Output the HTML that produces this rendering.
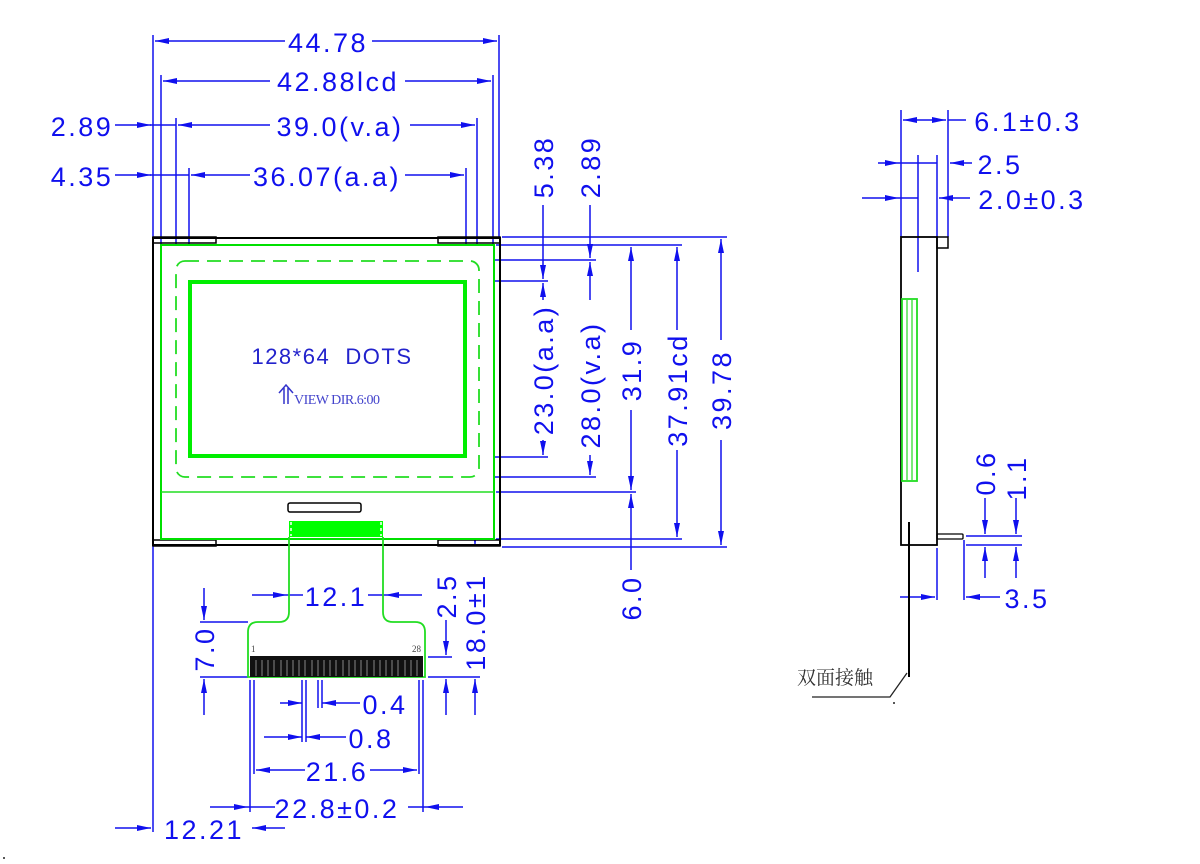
<!DOCTYPE html>
<html><head><meta charset="utf-8"><style>
html,body{margin:0;padding:0;background:#fff;}
svg{display:block;}
text{font-family:"Liberation Sans",sans-serif;fill:#1010ee;}
.d{font-size:27px;letter-spacing:2.5px;}
</style></head><body>
<svg width="1200" height="864" viewBox="0 0 1200 864" xmlns="http://www.w3.org/2000/svg">
<defs>
<marker id="a" markerWidth="14" markerHeight="8" refX="14" refY="4" orient="auto" markerUnits="userSpaceOnUse"><path d="M0,1 L14,4 L0,7 Z" fill="#1010ee"/></marker>
</defs>
<g stroke="#1010ee" stroke-width="1.5" fill="none">
<line x1="153" y1="35" x2="153" y2="832"/>
<line x1="499" y1="35" x2="499" y2="237"/>
<line x1="161" y1="75" x2="161" y2="245"/>
<line x1="493" y1="75" x2="493" y2="245"/>
<line x1="176" y1="118" x2="176" y2="280"/>
<line x1="477" y1="118" x2="477" y2="280"/>
<line x1="189" y1="168" x2="189" y2="290"/>
<line x1="466" y1="168" x2="466" y2="290"/>
<line x1="285" y1="41" x2="155" y2="41" marker-end="url(#a)"/>
<line x1="372" y1="41" x2="497" y2="41" marker-end="url(#a)"/>
<line x1="270" y1="81" x2="163" y2="81" marker-end="url(#a)"/>
<line x1="405" y1="81" x2="491" y2="81" marker-end="url(#a)"/>
<line x1="115" y1="125" x2="151" y2="125" marker-end="url(#a)"/>
<line x1="150" y1="125" x2="176" y2="125"/>
<line x1="270" y1="125" x2="178" y2="125" marker-end="url(#a)"/>
<line x1="410" y1="125" x2="475" y2="125" marker-end="url(#a)"/>
<line x1="115" y1="175" x2="151" y2="175" marker-end="url(#a)"/>
<line x1="150" y1="175" x2="189" y2="175"/>
<line x1="250" y1="175" x2="191" y2="175" marker-end="url(#a)"/>
<line x1="405" y1="175" x2="464" y2="175" marker-end="url(#a)"/>
<line x1="502" y1="237" x2="727" y2="237"/>
<line x1="496" y1="245" x2="682" y2="245"/>
<line x1="480" y1="260" x2="596" y2="260"/>
<line x1="468" y1="281" x2="548" y2="281"/>
<line x1="468" y1="457" x2="548" y2="457"/>
<line x1="480" y1="477" x2="596" y2="477"/>
<line x1="496" y1="492" x2="636" y2="492"/>
<line x1="496" y1="539" x2="682" y2="539"/>
<line x1="502" y1="547" x2="727" y2="547"/>
<line x1="543" y1="205" x2="543" y2="279" marker-end="url(#a)"/>
<line x1="543" y1="300" x2="543" y2="283" marker-end="url(#a)"/>
<line x1="543" y1="440" x2="543" y2="455" marker-end="url(#a)"/>
<line x1="590" y1="205" x2="590" y2="258" marker-end="url(#a)"/>
<line x1="590" y1="300" x2="590" y2="262" marker-end="url(#a)"/>
<line x1="590" y1="455" x2="590" y2="475" marker-end="url(#a)"/>
<line x1="631" y1="330" x2="631" y2="247" marker-end="url(#a)"/>
<line x1="631" y1="410" x2="631" y2="490" marker-end="url(#a)"/>
<line x1="631" y1="570" x2="631" y2="494" marker-end="url(#a)"/>
<line x1="677" y1="330" x2="677" y2="247" marker-end="url(#a)"/>
<line x1="677" y1="450" x2="677" y2="537" marker-end="url(#a)"/>
<line x1="721" y1="340" x2="721" y2="239" marker-end="url(#a)"/>
<line x1="721" y1="440" x2="721" y2="545" marker-end="url(#a)"/>
<line x1="252" y1="595" x2="287" y2="595" marker-end="url(#a)"/>
<line x1="287" y1="595" x2="303" y2="595"/>
<line x1="422" y1="595" x2="385" y2="595" marker-end="url(#a)"/>
<line x1="385" y1="595" x2="368" y2="595"/>
<line x1="200" y1="622" x2="248" y2="622"/>
<line x1="200" y1="677" x2="248" y2="677"/>
<line x1="204" y1="588" x2="204" y2="620" marker-end="url(#a)"/>
<line x1="204" y1="715" x2="204" y2="679" marker-end="url(#a)"/>
<line x1="428" y1="657" x2="452" y2="657"/>
<line x1="428" y1="677" x2="480" y2="677"/>
<line x1="446" y1="620" x2="446" y2="655" marker-end="url(#a)"/>
<line x1="446" y1="715" x2="446" y2="679" marker-end="url(#a)"/>
<line x1="475" y1="500" x2="475" y2="545" marker-end="url(#a)"/>
<line x1="475" y1="715" x2="475" y2="679" marker-end="url(#a)"/>
<line x1="250" y1="680" x2="250" y2="812"/>
<line x1="423" y1="680" x2="423" y2="812"/>
<line x1="254" y1="680" x2="254" y2="774"/>
<line x1="419" y1="680" x2="419" y2="774"/>
<line x1="302" y1="680" x2="302" y2="742"/>
<line x1="306" y1="680" x2="306" y2="742"/>
<line x1="318" y1="680" x2="318" y2="708"/>
<line x1="322" y1="680" x2="322" y2="708"/>
<line x1="280" y1="703" x2="302" y2="703" marker-end="url(#a)"/>
<line x1="360" y1="703" x2="322" y2="703" marker-end="url(#a)"/>
<line x1="264" y1="737" x2="302" y2="737" marker-end="url(#a)"/>
<line x1="346" y1="737" x2="306" y2="737" marker-end="url(#a)"/>
<line x1="305" y1="770" x2="256" y2="770" marker-end="url(#a)"/>
<line x1="370" y1="770" x2="417" y2="770" marker-end="url(#a)"/>
<line x1="210" y1="807" x2="248" y2="807" marker-end="url(#a)"/>
<line x1="248" y1="807" x2="275" y2="807"/>
<line x1="463" y1="807" x2="425" y2="807" marker-end="url(#a)"/>
<line x1="425" y1="807" x2="408" y2="807"/>
<line x1="115" y1="828" x2="151" y2="828" marker-end="url(#a)"/>
<line x1="285" y1="828" x2="252" y2="828" marker-end="url(#a)"/>
<line x1="901" y1="110" x2="901" y2="237"/>
<line x1="948" y1="110" x2="948" y2="237"/>
<line x1="918" y1="155" x2="918" y2="272"/>
<line x1="937" y1="155" x2="937" y2="237"/>
<line x1="924" y1="120" x2="903" y2="120" marker-end="url(#a)"/>
<line x1="924" y1="120" x2="946" y2="120" marker-end="url(#a)"/>
<line x1="948" y1="120" x2="966" y2="120"/>
<line x1="878" y1="163" x2="899" y2="163" marker-end="url(#a)"/>
<line x1="899" y1="163" x2="937" y2="163"/>
<line x1="972" y1="163" x2="950" y2="163" marker-end="url(#a)"/>
<line x1="862" y1="198" x2="899" y2="198" marker-end="url(#a)"/>
<line x1="899" y1="198" x2="918" y2="198"/>
<line x1="970" y1="198" x2="939" y2="198" marker-end="url(#a)"/>
<line x1="966" y1="536" x2="1022" y2="536"/>
<line x1="966" y1="545" x2="1022" y2="545"/>
<line x1="985" y1="498" x2="985" y2="534" marker-end="url(#a)"/>
<line x1="985" y1="578" x2="985" y2="547" marker-end="url(#a)"/>
<line x1="1016" y1="498" x2="1016" y2="534" marker-end="url(#a)"/>
<line x1="1016" y1="578" x2="1016" y2="547" marker-end="url(#a)"/>
<line x1="937" y1="548" x2="937" y2="600"/>
<line x1="964" y1="540" x2="964" y2="600"/>
<line x1="900" y1="597" x2="935" y2="597" marker-end="url(#a)"/>
<line x1="1000" y1="597" x2="966" y2="597" marker-end="url(#a)"/>
</g>
<rect x="153" y="238" width="347" height="307" fill="none" stroke="#000" stroke-width="2"/>
<rect x="153" y="237" width="63" height="6" fill="none" stroke="#000" stroke-width="1.5"/>
<rect x="438" y="237" width="62" height="6" fill="none" stroke="#000" stroke-width="1.5"/>
<rect x="153" y="540" width="63" height="6" fill="none" stroke="#000" stroke-width="1.5"/>
<rect x="438" y="540" width="62" height="6" fill="none" stroke="#000" stroke-width="1.5"/>
<rect x="161" y="245" width="333" height="294" fill="#fff" stroke="#00e000" stroke-width="2"/>
<rect x="176" y="261" width="303" height="216" rx="9" fill="none" stroke="#22dd22" stroke-width="1.8" stroke-dasharray="14,8"/>
<rect x="190" y="282" width="275" height="174" fill="none" stroke="#00ee00" stroke-width="4"/>
<line x1="161" y1="492" x2="494" y2="492" stroke="#22dd22" stroke-width="1.5"/>
<rect x="288" y="503" width="73" height="9" rx="2" fill="none" stroke="#000" stroke-width="1.5"/>
<rect x="289" y="521" width="94" height="16" fill="#00ff00"/>
<line x1="291" y1="522" x2="291" y2="536" stroke="#fff" stroke-width="1.5" stroke-dasharray="3,3"/>
<line x1="381" y1="522" x2="381" y2="536" stroke="#fff" stroke-width="1.5" stroke-dasharray="3,3"/>
<path d="M289,537 L289,612 Q289,622 279,622 L258,622 Q248,622 248,632 L248,677 L425,677 L425,632 Q425,622 415,622 L393,622 Q383,622 383,612 L383,537" fill="none" stroke="#22dd22" stroke-width="1.8"/>
<rect x="250" y="656" width="173" height="21" fill="#111"/>
<g stroke="#888" stroke-width="1">
<line x1="256" y1="660" x2="256" y2="676"/><line x1="262" y1="660" x2="262" y2="676"/><line x1="268" y1="660" x2="268" y2="676"/><line x1="274" y1="660" x2="274" y2="676"/><line x1="281" y1="660" x2="281" y2="676"/><line x1="287" y1="660" x2="287" y2="676"/><line x1="293" y1="660" x2="293" y2="676"/><line x1="299" y1="660" x2="299" y2="676"/><line x1="305" y1="660" x2="305" y2="676"/><line x1="312" y1="660" x2="312" y2="676"/><line x1="318" y1="660" x2="318" y2="676"/><line x1="324" y1="660" x2="324" y2="676"/><line x1="330" y1="660" x2="330" y2="676"/><line x1="336" y1="660" x2="336" y2="676"/><line x1="343" y1="660" x2="343" y2="676"/><line x1="349" y1="660" x2="349" y2="676"/><line x1="355" y1="660" x2="355" y2="676"/><line x1="361" y1="660" x2="361" y2="676"/><line x1="367" y1="660" x2="367" y2="676"/><line x1="374" y1="660" x2="374" y2="676"/><line x1="380" y1="660" x2="380" y2="676"/><line x1="386" y1="660" x2="386" y2="676"/><line x1="392" y1="660" x2="392" y2="676"/><line x1="398" y1="660" x2="398" y2="676"/><line x1="405" y1="660" x2="405" y2="676"/><line x1="411" y1="660" x2="411" y2="676"/><line x1="417" y1="660" x2="417" y2="676"/>
</g>
<text x="251" y="652" style="font-size:9px;fill:#444;font-family:'Liberation Serif',serif">1</text>
<text x="412" y="652" style="font-size:9px;fill:#444;font-family:'Liberation Serif',serif">28</text>
<text x="332" y="364" text-anchor="middle" style="font-size:22px;letter-spacing:1.5px;fill:#2222cc">128*64&#160;&#160;DOTS</text>
<path d="M284,404 L284,388 M288,404 L288,388 M279,393 L286,385 L293,393" stroke="#3333cc" stroke-width="1.5" fill="none"/>
<text x="294" y="404" style="font-size:14px;fill:#4444cc;font-family:'Liberation Serif',serif" textLength="86">VIEW DIR.6:00</text>
<rect x="901" y="237" width="36" height="308" fill="none" stroke="#000" stroke-width="1.8"/>
<rect x="937" y="237" width="11" height="11" fill="none" stroke="#000" stroke-width="1.5"/>
<rect x="937" y="534" width="26" height="5" rx="1" fill="none" stroke="#000" stroke-width="1.3"/>
<rect x="902" y="299" width="15" height="182" fill="none" stroke="#22dd22" stroke-width="1.8"/>
<line x1="907" y1="300" x2="907" y2="480" stroke="#22dd22" stroke-width="1.2"/>
<line x1="912" y1="300" x2="912" y2="480" stroke="#22dd22" stroke-width="1.2"/>
<line x1="909" y1="522" x2="909" y2="677" stroke="#000" stroke-width="2"/>
<path d="M907,673 L890,697 L812,697" fill="none" stroke="#222" stroke-width="1.3"/>
<text x="797" y="684" style="font-size:19px;fill:#333;font-family:'Noto Serif CJK SC',serif">双面接触</text>
<circle cx="894" cy="703" r="1" fill="#222"/>
<circle cx="4" cy="858" r="1" fill="#222"/>
<g class="d">
<text x="328" y="52" text-anchor="middle" class="d">44.78</text>
<text x="338" y="91" text-anchor="middle" class="d">42.88lcd</text>
<text x="340" y="136" text-anchor="middle" class="d">39.0(v.a)</text>
<text x="82" y="136" text-anchor="middle" class="d">2.89</text>
<text x="327" y="186" text-anchor="middle" class="d">36.07(a.a)</text>
<text x="82" y="186" text-anchor="middle" class="d">4.35</text>
<text x="336" y="606" text-anchor="middle" class="d">12.1</text>
<text x="385" y="714" text-anchor="middle" class="d">0.4</text>
<text x="371" y="748" text-anchor="middle" class="d">0.8</text>
<text x="337" y="781" text-anchor="middle" class="d">21.6</text>
<text x="337" y="818" text-anchor="middle" class="d">22.8±0.2</text>
<text x="204" y="839" text-anchor="middle" class="d">12.21</text>
<text x="1028" y="131" text-anchor="middle" class="d">6.1±0.3</text>
<text x="1000" y="174" text-anchor="middle" class="d">2.5</text>
<text x="1032" y="209" text-anchor="middle" class="d">2.0±0.3</text>
<text x="1027" y="608" text-anchor="middle" class="d">3.5</text>
</g>
<g class="d">
<text transform="translate(553,167) rotate(-90)" text-anchor="middle" class="d">5.38</text>
<text transform="translate(553,370) rotate(-90)" text-anchor="middle" class="d">23.0(a.a)</text>
<text transform="translate(600,167) rotate(-90)" text-anchor="middle" class="d">2.89</text>
<text transform="translate(600,385) rotate(-90)" text-anchor="middle" class="d">28.0(v.a)</text>
<text transform="translate(641,370) rotate(-90)" text-anchor="middle" class="d">31.9</text>
<text transform="translate(641,598) rotate(-90)" text-anchor="middle" class="d">6.0</text>
<text transform="translate(687,390) rotate(-90)" text-anchor="middle" class="d">37.91cd</text>
<text transform="translate(731,390) rotate(-90)" text-anchor="middle" class="d">39.78</text>
<text transform="translate(214,649) rotate(-90)" text-anchor="middle" class="d">7.0</text>
<text transform="translate(456,596) rotate(-90)" text-anchor="middle" class="d">2.5</text>
<text transform="translate(485,622) rotate(-90)" text-anchor="middle" class="d">18.0±1</text>
<text transform="translate(995,473) rotate(-90)" text-anchor="middle" class="d">0.6</text>
<text transform="translate(1026,478) rotate(-90)" text-anchor="middle" class="d">1.1</text>
</g>
</svg>
</body></html>
